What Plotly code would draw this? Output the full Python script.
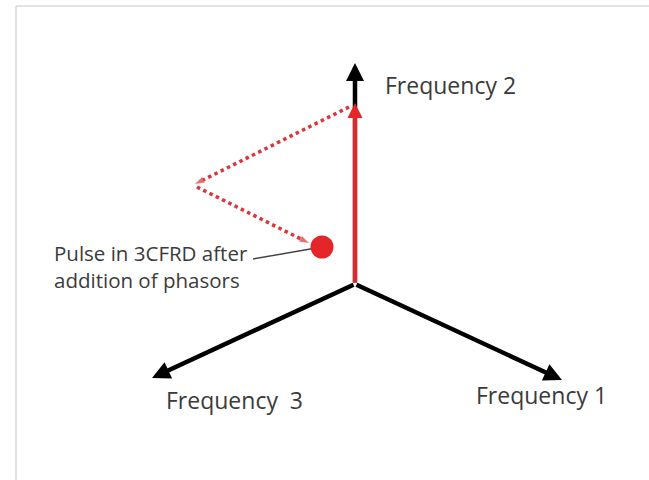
import plotly.graph_objects as go

# --- diagram data (pixel-space coordinates of the phasor diagram) ---
origin_x = 355
origin_y = 284
axis_names = ["Frequency 1", "Frequency 2", "Frequency\u00a0\u00a03"]
axis_tip_x = [562, 355, 152]
axis_tip_y = [380, 63, 378]
label_x = [541, 450, 234]
label_y = [395, 85, 400]

# phasor addition path (red)
phasor_x = [355, 355]
phasor_y = [284, 103]
dotted1_x = [349, 195]
dotted1_y = [107, 184]
dotted2_x = [197, 309]
dotted2_y = [187, 243]
pulse_x = [322]
pulse_y = [247]
pointer_x = [253, 316]
pointer_y = [259, 248]
pulse_text = "Pulse in 3CFRD after<br>addition of phasors"

RED = "#e4262b"
TXT = "#3b3b3b"
FONT = "Open Sans"

fig = go.Figure()

# dotted phasor paths with small arrow heads
for xs, ys in [(dotted1_x, dotted1_y), (dotted2_x, dotted2_y)]:
    fig.add_trace(go.Scatter(
        x=xs, y=ys, mode="lines+markers",
        line=dict(color="#dc343a", width=3.5, dash="dot"),
        marker=dict(symbol="arrow", size=[0, 10], angleref="previous",
                    color="#dc343a", line=dict(width=0)),
        hoverinfo="skip", showlegend=False))

# pointer line
fig.add_trace(go.Scatter(x=pointer_x, y=pointer_y, mode="lines",
                         line=dict(color="#444444", width=1.5),
                         hoverinfo="skip", showlegend=False))

# pulse dot
fig.add_trace(go.Scatter(x=pulse_x, y=pulse_y, mode="markers",
                         marker=dict(size=23, color=RED, line=dict(width=0)),
                         hoverinfo="skip", showlegend=False))

annotations = []
# black axes arrows
for tx, ty in zip(axis_tip_x, axis_tip_y):
    annotations.append(dict(
        x=tx, y=ty, ax=origin_x, ay=origin_y, xref="x", yref="y",
        axref="x", ayref="y", text="", showarrow=True,
        arrowhead=2, arrowsize=0.8, arrowwidth=4.5, arrowcolor="black",
        standoff=0, startstandoff=0))
# red phasor arrow
annotations.append(dict(
    x=phasor_x[1], y=phasor_y[1], ax=phasor_x[0], ay=phasor_y[0],
    xref="x", yref="y", axref="x", ayref="y", text="", showarrow=True,
    arrowhead=2, arrowsize=0.75, arrowwidth=4, arrowcolor=RED,
    standoff=0, startstandoff=0))
# axis labels
for name, lx, ly in zip(axis_names, label_x, label_y):
    annotations.append(dict(x=lx, y=ly, xref="x", yref="y", text=name,
                            showarrow=False, xanchor="center", yanchor="middle",
                            font=dict(family=FONT, size=23, color=TXT)))
annotations.append(dict(x=52, y=266, xref="x", yref="y", text=pulse_text,
                        showarrow=False, xanchor="left", yanchor="middle",
                        align="left",
                        font=dict(family=FONT, size=20.5, color=TXT)))

fig.update_layout(
    width=649, height=480,
    margin=dict(l=0, r=0, t=0, b=0),
    paper_bgcolor="white", plot_bgcolor="white",
    xaxis=dict(range=[0, 649], visible=False, fixedrange=True),
    yaxis=dict(range=[480, 0], visible=False, fixedrange=True),
    annotations=annotations,
    shapes=[
        dict(type="line", xref="x", yref="y", x0=16, y0=6, x1=16, y1=480,
             line=dict(color="#d9d9d9", width=1.5)),
        dict(type="line", xref="x", yref="y", x0=16, y0=6, x1=649, y1=6,
             line=dict(color="#d9d9d9", width=1.5)),
    ],
    showlegend=False,
)

fig.write_html("out.html", config={"displayModeBar": False},
               post_script="document.body.style.margin='0px';")
